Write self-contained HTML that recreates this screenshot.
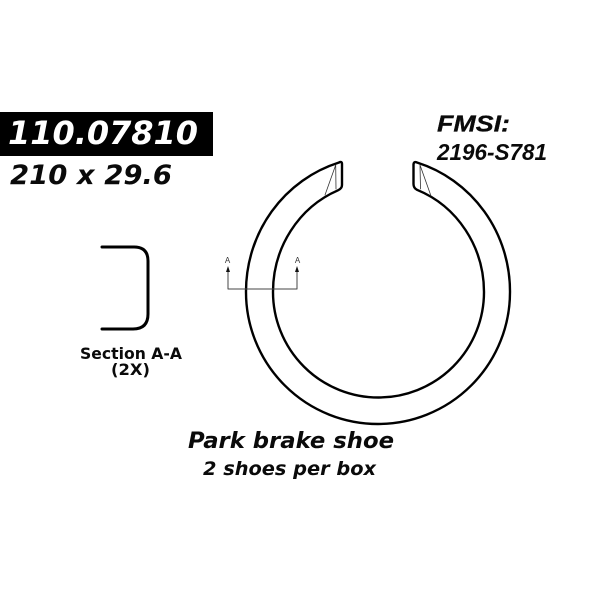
<!DOCTYPE html>
<html>
<head>
<meta charset="utf-8">
<style>
html,body{margin:0;padding:0;background:#fff;}
svg{display:block;}
text{fill:#0a0a0a;}
.d{font-family:"DejaVu Sans",sans-serif;font-weight:bold;}
.l{font-family:"Liberation Sans",sans-serif;font-weight:bold;font-style:italic;}
</style>
</head>
<body>
<svg width="600" height="600" viewBox="0 0 600 600" xmlns="http://www.w3.org/2000/svg">
<rect x="0" y="112" width="213" height="44" fill="#000"/>
<text x="8" y="144" class="d" font-size="32" font-style="italic" style="fill:#fff" textLength="190" lengthAdjust="spacingAndGlyphs">110.07810</text>
<text x="10" y="184" class="d" font-size="27" font-style="italic" textLength="162" lengthAdjust="spacingAndGlyphs">210 x 29.6</text>
<text x="437" y="131.500" class="l" font-size="23" stroke="#0a0a0a" stroke-width="0.3" textLength="73" lengthAdjust="spacingAndGlyphs">FMSI:</text>
<text x="437" y="160" class="l" font-size="23" textLength="110" lengthAdjust="spacingAndGlyphs">2196-S781</text>

<g fill="none" stroke="#000" stroke-linecap="round" stroke-linejoin="round">
<path stroke-width="2.4" d="M339 162.500 A132 135 0 0 0 246 292 A132 132 0 0 0 510 292 A132 135 0 0 0 417 162.500 Q413.500 161 413.500 165 L413.500 184 Q413.500 188 417 189.800 A105.500 110 0 0 1 484 292 A105.500 105.500 0 0 1 273 292 A105.500 110 0 0 1 338 190.300 Q342 188.500 342 185 L342 164 Q342 161 339 162.500 Z"/>
<path stroke-width="0.8" stroke="#333" d="M335.700 165 L325 195 M335.700 165 L336 189 M420 165 L431 196 M420 165 L420.500 189"/>
<path stroke-width="1" stroke="#444" d="M228 270 L228 289 L297 289 L297 270"/>
<path stroke-width="3" d="M102 247 L134 247 Q148 247 148 261 L148 314 Q148 329 133 329 L102 329"/>
</g>
<path fill="#111" d="M228 266 L226 272 L230 272 Z M297 266 L295 272 L299 272 Z"/>
<text x="227.500" y="263" font-family="Liberation Sans,sans-serif" font-size="8" text-anchor="middle" style="fill:#333">A</text>
<text x="297.500" y="263" font-family="Liberation Sans,sans-serif" font-size="8" text-anchor="middle" style="fill:#333">A</text>

<text x="80" y="359" class="d" font-size="16" textLength="102" lengthAdjust="spacingAndGlyphs">Section A-A</text>
<text x="111" y="375" class="d" font-size="16" textLength="39" lengthAdjust="spacingAndGlyphs">(2X)</text>
<text x="188" y="448" class="d" font-size="22" font-style="italic" textLength="206" lengthAdjust="spacingAndGlyphs">Park brake shoe</text>
<text x="203" y="475" class="d" font-size="19" font-style="italic" textLength="173" lengthAdjust="spacingAndGlyphs">2 shoes per box</text>
</svg>
</body>
</html>
